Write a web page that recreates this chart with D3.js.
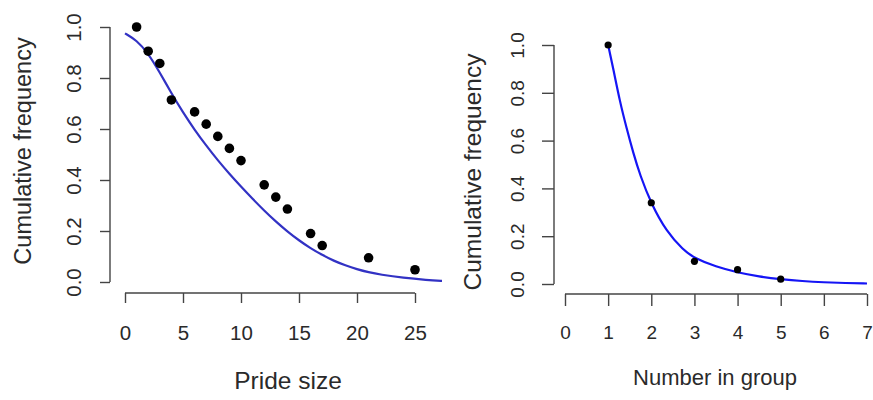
<!DOCTYPE html>
<html>
<head>
<meta charset="utf-8">
<script src="https://cdn.jsdelivr.net/npm/d3@7"></script>
<style>
  body { margin: 0; background: white; }
  svg text { font-family: "Liberation Sans", Arial, sans-serif; fill: #2a2a2a; }
</style>
</head>
<body>
<div id="plot"></div>
<script>
// data

  var prideSize = [1, 2, 3, 4, 6, 7, 8, 9, 10, 12, 13, 14, 16, 17, 21, 25];
  var prideFreq = [1.0, 0.905, 0.857, 0.714, 0.667, 0.619, 0.571, 0.524, 0.476,
      0.381, 0.333, 0.286, 0.190, 0.143, 0.095, 0.048];

  var prideFitX = [0, 1, 2, 3, 4, 5, 6, 7, 8, 9, 10, 11, 12, 13, 14, 15, 16, 17, 18, 19,
      20, 21, 22, 24, 26, 27.5];
  var prideFitY = [0.975, 0.948, 0.897, 0.822, 0.74, 0.665, 0.597, 0.535, 0.477, 0.424,
      0.374, 0.326, 0.28, 0.237, 0.198, 0.163, 0.132, 0.106, 0.083, 0.065,
      0.05, 0.038, 0.029, 0.016, 0.008, 0.004];

  var groupSize = [1, 2, 3, 4, 5];
  var groupFreq = [1.0, 0.34, 0.095, 0.06, 0.02];

  var groupFitX = [1, 1.12, 1.27, 1.43, 1.58, 1.74, 2, 2.35, 2.74, 3, 3.5, 4, 4.5, 5, 5.5, 6, 6.5, 7];
  var groupFitY = [1.0, 0.9, 0.765, 0.65, 0.55, 0.455, 0.335, 0.22, 0.142, 0.108, 0.072,
      0.048, 0.031, 0.02, 0.012, 0.007, 0.004, 0.002];

  var freqTicks = [0, 0.2, 0.4, 0.6, 0.8, 1.0];
  var prideTicks = [0, 5, 10, 15, 20, 25];
  var groupTicks = [0, 1, 2, 3, 4, 5, 6, 7];

  var w = 873;
  var h = 400;

  var svg = d3.select("div#plot")
    .append("svg")
      .attr("width", w)
      .attr("height", h);

  svg.append("rect")
      .attr("width", w)
      .attr("height", h)
      .attr("fill", "white");

  svg.append("clipPath")
      .attr("id", "leftClip")
    .append("rect")
      .attr("x", 100)
      .attr("y", 0)
      .attr("width", 342)
      .attr("height", h);

// one R-style panel

  function panel(opt) {
    var g = svg.append("g");

    var x = d3.scaleLinear().domain(opt.xDomain).range(opt.xRange);
    var y = d3.scaleLinear().domain([0, 1]).range(opt.yRange);

    // fitted curve
    var line = d3.line()
        .x(d => x(d[0]))
        .y(d => y(d[1]))
        .curve(d3.curveBasis);

    g.append("path")
        .datum(d3.zip(opt.fitX, opt.fitY))
        .attr("d", line)
        .attr("fill", "none")
        .attr("stroke", opt.lineColor)
        .attr("stroke-width", 2.2)
        .attr("clip-path", opt.clip || null);

    // observed points
    g.selectAll("circle")
        .data(d3.zip(opt.ptX, opt.ptY))
      .enter().append("circle")
        .attr("cx", d => x(d[0]))
        .attr("cy", d => y(d[1]))
        .attr("r", opt.r)
        .attr("fill", "black");

    // x axis
    var xAxis = d3.axisBottom(x)
        .tickValues(opt.xTicks)
        .tickSize(opt.tickLen)
        .tickFormat(d3.format("d"));

    var gx = g.append("g")
        .attr("transform", `translate(0, ${opt.xAxisY})`)
        .call(xAxis);
    gx.select(".domain").remove();
    gx.append("line")
        .attr("x1", x(opt.xTicks[0]))
        .attr("x2", x(opt.xTicks[opt.xTicks.length - 1]))
        .attr("stroke", "#444")
        .attr("stroke-width", 1.4);
    gx.selectAll(".tick line").attr("stroke", "#444").attr("stroke-width", 1.4);
    gx.selectAll(".tick text")
        .attr("y", opt.xLabelOff)
        .attr("dy", "0.35em")
        .attr("fill", "#2a2a2a")
        .style("font-size", opt.tickFont + "px");

    // y axis
    var yAxis = d3.axisLeft(y)
        .tickValues(freqTicks)
        .tickSize(opt.tickLen)
        .tickFormat(d3.format(".1f"));

    var gy = g.append("g")
        .attr("transform", `translate(${opt.yAxisX}, 0)`)
        .call(yAxis);
    gy.select(".domain").remove();
    gy.append("line")
        .attr("y1", y(0))
        .attr("y2", y(1))
        .attr("stroke", "#444")
        .attr("stroke-width", 1.4);
    gy.selectAll(".tick line").attr("stroke", "#444").attr("stroke-width", 1.4);
    gy.selectAll(".tick text")
        .attr("x", null)
        .attr("dy", null)
        .attr("text-anchor", "middle")
        .attr("fill", "#2a2a2a")
        .attr("transform", `translate(${opt.yLabelOff}, 0) rotate(-90) translate(0, 7)`)
        .style("font-size", opt.tickFont + "px");

    // titles
    g.append("text")
        .attr("x", opt.xTitle[0])
        .attr("y", opt.xTitle[1])
        .attr("dy", "0.35em")
        .attr("text-anchor", "middle")
        .style("font-size", opt.xTitleFont + "px")
        .text(opt.xLabel);

    g.append("text")
        .attr("transform", `translate(${opt.yTitle[0]}, ${opt.yTitle[1]}) rotate(-90)`)
        .attr("dy", "0.35em")
        .attr("text-anchor", "middle")
        .style("font-size", opt.yTitleFont + "px")
        .text("Cumulative frequency");
  }

  panel({
    xDomain: [0, 25], xRange: [125, 415], yRange: [282, 27],
    fitX: prideFitX, fitY: prideFitY, ptX: prideSize, ptY: prideFreq,
    lineColor: "#3232c4", r: 4.8, clip: "url(#leftClip)",
    xTicks: prideTicks, xAxisY: 293, yAxisX: 110, tickLen: 10,
    xLabelOff: 40, yLabelOff: -36, tickFont: 20.5, xTitleFont: 24.5, yTitleFont: 23.5,
    xTitle: [288, 380], yTitle: [23, 151], xLabel: "Pride size"
  });

  panel({
    xDomain: [0, 7], xRange: [565, 867], yRange: [284, 45],
    fitX: groupFitX, fitY: groupFitY, ptX: groupSize, ptY: groupFreq,
    lineColor: "#1515f5", r: 3.6,
    xTicks: groupTicks, xAxisY: 294, yAxisX: 554, tickLen: 12,
    xLabelOff: 38, yLabelOff: -37, tickFont: 19, xTitleFont: 22, yTitleFont: 24.5,
    xTitle: [715, 377], yTitle: [472, 172], xLabel: "Number in group"
  });

</script>
</body>
</html>
